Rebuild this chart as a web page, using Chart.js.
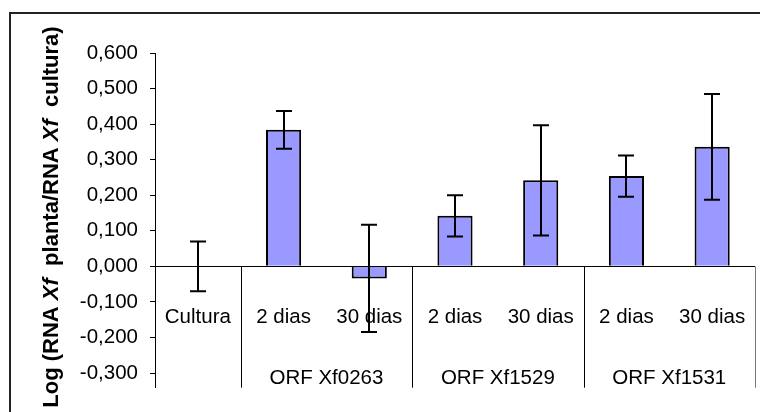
<!DOCTYPE html>
<html>
<head>
<meta charset="utf-8">
<script src="https://cdn.jsdelivr.net/npm/chart.js@4/dist/chart.umd.min.js"></script>
<style>
  html, body { margin: 0; padding: 0; background: #fff; }
  canvas { display: block; }
</style>
</head>
<body>
<canvas id="barchart" width="760" height="412"></canvas>
<script>
// data
var categories = ['Cultura', '2 dias', '30 dias', '2 dias', '30 dias', '2 dias', '30 dias'];
var groupLabels = ['ORF Xf0263', 'ORF Xf1529', 'ORF Xf1531'];
var groupStart = [1, 3, 5];
var groupSize = [2, 2, 2];
var values = [0, 0.384, -0.034, 0.142, 0.242, 0.254, 0.336];
var errors = [0.070, 0.053, 0.151, 0.058, 0.155, 0.058, 0.149];
var yTicks = [-0.3, -0.2, -0.1, 0, 0.1, 0.2, 0.3, 0.4, 0.5, 0.6];

var FONT = "'Liberation Sans', Arial, sans-serif";
Chart.defaults.font.family = FONT;
Chart.defaults.color = '#000';

function fmt(v) {
    return v.toFixed(3).replace('.', ',');
}

// frame, zero line, category labels, group separators
var decorations = {
    id: 'decorations',
    beforeDraw: function(chart) {
        var ctx = chart.ctx;
        ctx.save();
        ctx.strokeStyle = '#222';
        ctx.lineWidth = 2;
        ctx.beginPath();
        ctx.moveTo(10, 420);
        ctx.lineTo(10, 13);
        ctx.lineTo(770, 13);
        ctx.stroke();
        ctx.restore();
    },
    afterDraw: function(chart) {
        var ctx = chart.ctx;
        var area = chart.chartArea;
        var y = chart.scales.y;
        var x = chart.scales.x;
        var y0 = Math.round(y.getPixelForValue(0)) + 0.5;
        var step = (area.right - area.left) / categories.length;

        ctx.save();
        ctx.strokeStyle = '#000';
        ctx.lineWidth = 1;
        ctx.beginPath();
        ctx.moveTo(area.left, y0);
        ctx.lineTo(area.right, y0);
        ctx.stroke();

        // separators between groups
        var bounds = [1, 3, 5, 7];
        bounds.forEach(function(b) {
            var px = Math.round(area.left + b * step) + 0.5;
            ctx.strokeStyle = b == 7 ? '#777' : '#000';
            ctx.beginPath();
            ctx.moveTo(px, y0);
            ctx.lineTo(px, area.bottom);
            ctx.stroke();
        });

        ctx.fillStyle = '#000';
        ctx.font = '20.5px ' + FONT;
        ctx.textAlign = 'center';
        ctx.textBaseline = 'middle';
        categories.forEach(function(c, i) {
            ctx.fillText(c, x.getPixelForValue(i), 317);
        });
        groupLabels.forEach(function(g, i) {
            var cx = area.left + (groupStart[i] + groupSize[i] / 2) * step;
            ctx.fillText(g, cx, 378);
        });

        // y axis title, rotated, with italic Xf
        var parts = [
            ['Log (RNA ', false], ['Xf', true], ['  planta/RNA ', false],
            ['Xf', true], ['  cultura)', false]
        ];
        var fonts = { n: 'bold 22px ' + FONT, i: 'italic bold 22px ' + FONT };
        var total = 0;
        parts.forEach(function(p) {
            ctx.font = p[1] ? fonts.i : fonts.n;
            total += ctx.measureText(p[0]).width;
        });
        ctx.translate(52, 217);
        ctx.rotate(-Math.PI / 2);
        ctx.textAlign = 'left';
        ctx.textBaseline = 'middle';
        var tx = -total / 2;
        parts.forEach(function(p) {
            ctx.font = p[1] ? fonts.i : fonts.n;
            ctx.fillText(p[0], tx, 0);
            tx += ctx.measureText(p[0]).width;
        });
        ctx.restore();
    }
};

// error bars from the values and errors arrays
var errorBars = {
    id: 'errorBars',
    afterDatasetsDraw: function(chart) {
        var ctx = chart.ctx;
        var y = chart.scales.y;
        var meta = chart.getDatasetMeta(0);
        ctx.save();
        ctx.strokeStyle = '#000';
        ctx.lineWidth = 2;
        meta.data.forEach(function(bar, i) {
            var top = y.getPixelForValue(values[i] + errors[i]);
            var bot = y.getPixelForValue(values[i] - errors[i]);
            var cx = Math.round(bar.x);
            ctx.beginPath();
            ctx.moveTo(cx, top);
            ctx.lineTo(cx, bot);
            ctx.moveTo(cx - 8, top);
            ctx.lineTo(cx + 8, top);
            ctx.moveTo(cx - 8, bot);
            ctx.lineTo(cx + 8, bot);
            ctx.stroke();
        });
        ctx.restore();
    }
};

var chart2 = document.getElementById('barchart');
var myChart2 = new Chart(chart2, {
type: 'bar',
data: {
    labels: categories,
    datasets: [{
        data: values,
        backgroundColor: '#9999FF',
        borderColor: '#000',
        borderWidth: 2,
        barPercentage: 0.41,
        categoryPercentage: 1
    }]
},
options: {
    responsive: false,
    animation: false,
    layout: {
        padding: { left: 0, top: 53, right: 5, bottom: 17 }
    },
    scales: {
        x: {
            display: false,
            offset: true
        },
        y: {
            min: -0.3413,
            max: 0.6,
            afterBuildTicks: function(scale) {
                scale.ticks = yTicks.map(function(v) { return { value: v }; });
            },
            afterFit: function(scale) {
                scale.width = 155;
            },
            grid: {
                drawOnChartArea: false,
                drawTicks: true,
                tickLength: 5,
                color: '#000'
            },
            border: {
                display: true,
                color: '#000',
                width: 1
            },
            ticks: {
                padding: 12,
                font: { size: 20.5 },
                color: '#000',
                callback: function(v) { return fmt(v); }
            }
        }
    },
    plugins: {
        legend: { display: false },
        tooltip: { enabled: false },
        title: { display: false }
    }
},
plugins: [decorations, errorBars]
});
</script>
</body>
</html>
